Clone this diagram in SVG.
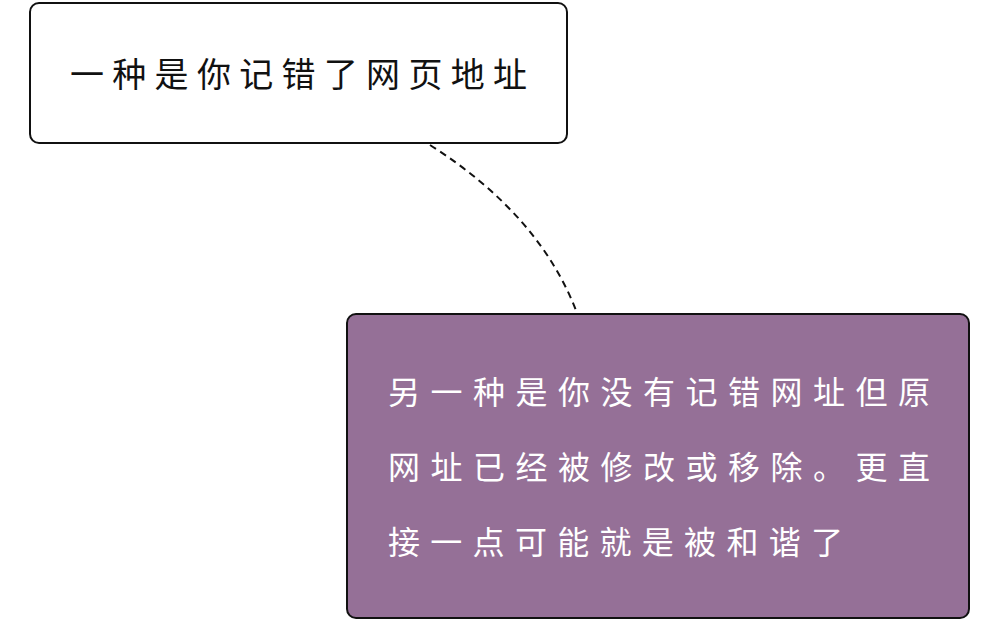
<svg xmlns="http://www.w3.org/2000/svg" width="1000" height="620" viewBox="0 0 1000 620">
<style>
.b{stroke:#111;stroke-width:2}
.t{font-family:"Noto Sans CJK SC",sans-serif}
</style>
<rect width="1000" height="620" fill="#fff"/>
<g id="connectors"><path d="M430,145 Q540,215 577,313" fill="none" stroke="#111" stroke-width="2" stroke-dasharray="7,5"/></g>
<g id="n1"><rect class="b" x="30" y="3" width="537" height="140" rx="9" fill="#fff"/>
<text class="t" x="70" y="87" fill="#111" font-size="34" textLength="457" lengthAdjust="spacing">一种是你记错了网页地址</text></g>
<g id="n2"><rect class="b" x="347" y="314" width="622" height="304" rx="9" fill="#957097"/>
<g class="t" fill="#fff" font-size="32">
<text x="388" y="404" textLength="542" lengthAdjust="spacing">另一种是你没有记错网址但原</text>
<text x="388" y="479" textLength="542" lengthAdjust="spacing">网址已经被修改或移除。更直</text>
<text x="388" y="554" textLength="455" lengthAdjust="spacing">接一点可能就是被和谐了</text></g></g>
</svg>
